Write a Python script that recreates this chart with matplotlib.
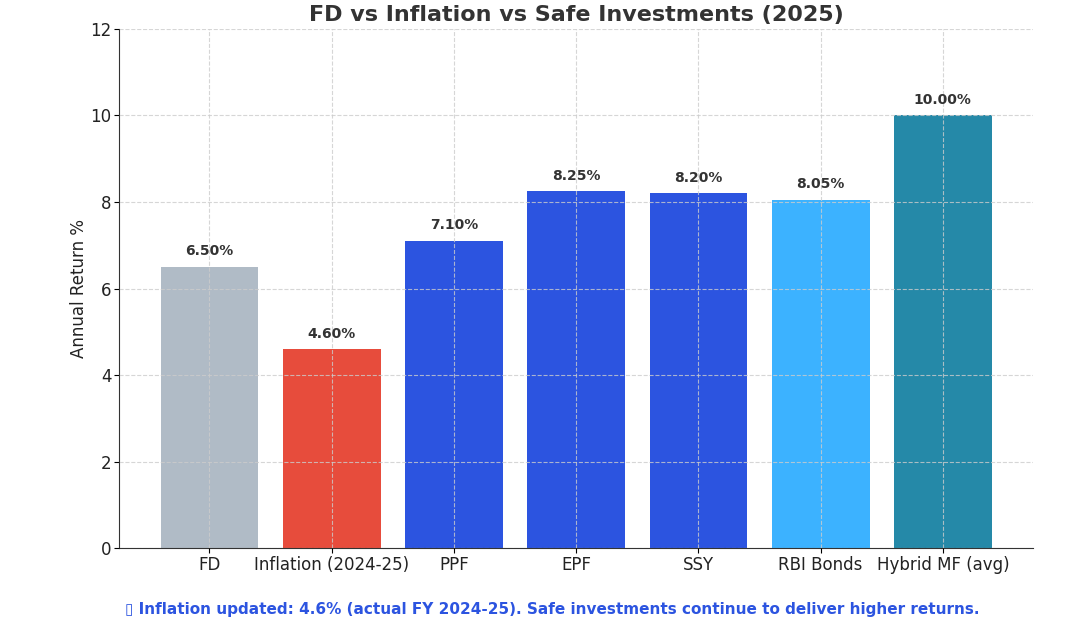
import matplotlib.pyplot as plt

categories = ["FD", "Inflation (2024-25)", "PPF", "EPF", "SSY", "RBI Bonds", "Hybrid MF (avg)"]
returns = [6.50, 4.60, 7.10, 8.25, 8.20, 8.05, 10.00]
colors = ["#B0BBC6", "#E74C3C", "#2C54E0", "#2C54E0", "#2C54E0", "#3CB2FF", "#2589A8"]
# the pin emoji shows up as an empty box in the original, no font here has it
footer = "\u25AF Inflation updated: 4.6% (actual FY 2024-25). Safe investments continue to deliver higher returns."

fig = plt.figure(figsize=(10.82, 6.28), dpi=100)
ax = fig.add_axes([0.110, 0.127, 0.845, 0.827])

bars = ax.bar(categories, returns, color=colors, width=0.8)
for b, v in zip(bars, returns):
    ax.text(b.get_x() + b.get_width() / 2, v + 0.2, f"{v:.2f}%", ha="center", va="bottom",
            fontsize=10, fontweight="bold", color="#333333")

ax.set_ylim(0, 12)
ax.set_ylabel("Annual Return %", fontsize=12, color="#222222", labelpad=1.5)
ax.set_title("FD vs Inflation vs Safe Investments (2025)", fontsize=16, fontweight="bold",
             color="#333333", pad=6)
ax.tick_params(labelsize=12, labelcolor="#222222", pad=2)
ax.grid(True, linestyle="--", color="#cccccc", alpha=0.8)
ax.set_axisbelow(False)
ax.spines["top"].set_visible(False)
ax.spines["right"].set_visible(False)
ax.spines["left"].set_color("#333333")
ax.spines["bottom"].set_color("#333333")

fig.text(0.51, 0.03, footer, ha="center", va="center", fontsize=11, fontweight="bold", color="#2C54E0")

fig.savefig("out.png", dpi=100)
